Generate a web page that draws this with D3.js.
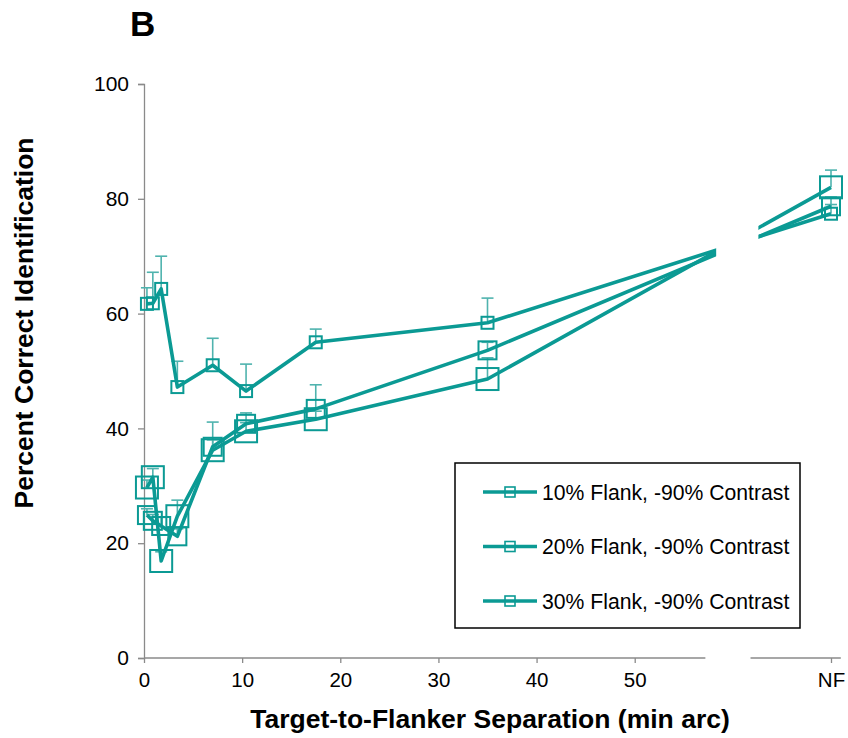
<!DOCTYPE html>
<html>
<head>
<meta charset="utf-8">
<script src="https://cdn.jsdelivr.net/npm/d3@7"></script>
<style>
  body { margin: 0; background: #fff; }
  svg { font-family: "Liberation Sans", Arial, sans-serif; }
</style>
</head>
<body>
<div id="chart"></div>
<script>
// separations (min arc); the last one is the no-flanker condition, drawn at 70
const separations = [0.3, 0.9, 1.75, 3.4, 7, 10.4, 17.5, 35, 70]
const seriesNames = ["10% Flank, -90% Contrast", "20% Flank, -90% Contrast", "30% Flank, -90% Contrast"]

const flank10 = [61.7, 61.8, 64.3, 47.2, 51.0, 46.5, 55.0, 58.4, 77.4]
const flank20 = [24.9, 23.9, 23.0, 21.2, 36.8, 40.8, 43.4, 53.6, 78.7]
const flank30 = [29.7, 31.5, 16.9, 24.7, 36.2, 39.5, 41.6, 48.6, 82.0]

// top of each (upper only) error bar
const err10 = [64.5, 67.2, 70.0, 51.7, 55.7, 51.2, 57.3, 62.7, 79.0]
const err20 = [26.0, 25.0, 24.5, 22.5, 38.0, 42.7, 47.6, 55.0, 80.3]
const err30 = [31.0, 33.0, 18.5, 27.5, 41.1, 41.0, 43.0, 52.3, 85.0]

const xTicks = [0, 10, 20, 30, 40, 50, 70]
const yTicks = [0, 20, 40, 60, 80, 100]

const width = 848
const height = 738
const teal = "#0b9a94"
const tealLight = "#4fb3ae"

const svg = d3.select("#chart")
    .append("svg")
    .attr("width", width)
    .attr("height", height)

const x = d3.scaleLinear().domain([0, 70]).range([144, 831])
const y = d3.scaleLinear().domain([0, 100]).range([658, 84])

// y axis
const yAxis = svg.append("g")
    .attr("transform", "translate(144,0)")
    .call(d3.axisLeft(y).tickValues(yTicks).tickSize(6).tickPadding(9))
yAxis.select(".domain").attr("stroke", "#8a8a8a").attr("stroke-width", 1.3)
yAxis.selectAll(".tick line").attr("stroke", "#8a8a8a").attr("stroke-width", 1.3)
yAxis.selectAll("text").style("font-size", "21px").attr("fill", "#000")

// x axis with a break before NF
const xAxis = svg.append("g")
    .attr("transform", "translate(0,658)")
    .call(d3.axisBottom(x).tickValues(xTicks).tickSize(5).tickPadding(9)
        .tickFormat(d => d == 70 ? "NF" : d))
xAxis.select(".domain").remove()
xAxis.selectAll(".tick line").attr("stroke", "#8a8a8a").attr("stroke-width", 1.3)
xAxis.selectAll("text").style("font-size", "20.5px").attr("fill", "#000")

const axisPieces = [[0, 57.2], [61.8, 71]]
svg.selectAll("line.xdomain")
    .data(axisPieces)
    .enter()
    .append("line")
    .attr("class", "xdomain")
    .attr("x1", d => x(d[0]))
    .attr("x2", d => x(d[1]))
    .attr("y1", 658)
    .attr("y2", 658)
    .attr("stroke", "#8a8a8a")
    .attr("stroke-width", 1.3)

const series = [
    { name: seriesNames[0], values: flank10, errs: err10, size: 12 },
    { name: seriesNames[1], values: flank20, errs: err20, size: 18 },
    { name: seriesNames[2], values: flank30, errs: err30, size: 22 }
]

const plot = svg.append("g")

// error bars
series.forEach(s => {
    const g = plot.append("g")
    const pts = separations.map((sep, i) => ({ sep: sep, v: s.values[i], e: s.errs[i] }))
    g.selectAll("line.stem")
        .data(pts)
        .enter()
        .append("line")
        .attr("x1", d => x(d.sep))
        .attr("x2", d => x(d.sep))
        .attr("y1", d => y(d.v))
        .attr("y2", d => y(d.e))
        .attr("stroke", tealLight)
        .attr("stroke-width", 1.6)
    g.selectAll("line.cap")
        .data(pts)
        .enter()
        .append("line")
        .attr("x1", d => x(d.sep) - 6)
        .attr("x2", d => x(d.sep) + 6)
        .attr("y1", d => y(d.e))
        .attr("y2", d => y(d.e))
        .attr("stroke", tealLight)
        .attr("stroke-width", 1.6)
})

const line = d3.line()
    .x((d, i) => x(separations[i]))
    .y(d => y(d))

series.forEach(s => {
    plot.append("path")
        .datum(s.values)
        .attr("d", line)
        .attr("fill", "none")
        .attr("stroke", teal)
        .attr("stroke-width", 3.6)
        .attr("stroke-linejoin", "round")
})

// markers
series.forEach(s => {
    plot.append("g")
        .selectAll("rect")
        .data(s.values)
        .enter()
        .append("rect")
        .attr("x", (d, i) => x(separations[i]) - s.size / 2)
        .attr("y", d => y(d) - s.size / 2)
        .attr("width", s.size)
        .attr("height", s.size)
        .attr("fill", "none")
        .attr("stroke", teal)
        .attr("stroke-width", 2)
})

// white gap through the lines (axis break)
svg.append("rect")
    .attr("x", x(58.3))
    .attr("y", 84)
    .attr("width", x(62.6) - x(58.3))
    .attr("height", 560)
    .attr("fill", "#fff")

// legend
const legend = svg.append("g")
legend.append("rect")
    .attr("x", 455)
    .attr("y", 463)
    .attr("width", 345)
    .attr("height", 165)
    .attr("fill", "#fff")
    .attr("stroke", "#000")
    .attr("stroke-width", 1.5)

const items = legend.selectAll("g.item")
    .data(seriesNames)
    .enter()
    .append("g")
    .attr("transform", (d, i) => `translate(0,${492 + i * 54.5})`)
items.append("line")
    .attr("x1", 483)
    .attr("x2", 537)
    .attr("stroke", teal)
    .attr("stroke-width", 3.6)
items.append("rect")
    .attr("x", 505)
    .attr("y", -5)
    .attr("width", 10)
    .attr("height", 10)
    .attr("fill", "none")
    .attr("stroke", teal)
    .attr("stroke-width", 1.6)
items.append("text")
    .attr("x", 542)
    .attr("y", 7.5)
    .style("font-size", "21.2px")
    .text(d => d)

// titles
svg.append("text")
    .attr("x", 130)
    .attr("y", 36)
    .style("font-size", "35px")
    .style("font-weight", "bold")
    .text("B")

svg.append("text")
    .attr("transform", "translate(33,323) rotate(-90)")
    .attr("text-anchor", "middle")
    .style("font-size", "26.5px")
    .style("font-weight", "bold")
    .text("Percent Correct Identification")

svg.append("text")
    .attr("x", 490)
    .attr("y", 728)
    .attr("text-anchor", "middle")
    .style("font-size", "26.5px")
    .style("font-weight", "bold")
    .text("Target-to-Flanker Separation (min arc)")
</script>
</body>
</html>
